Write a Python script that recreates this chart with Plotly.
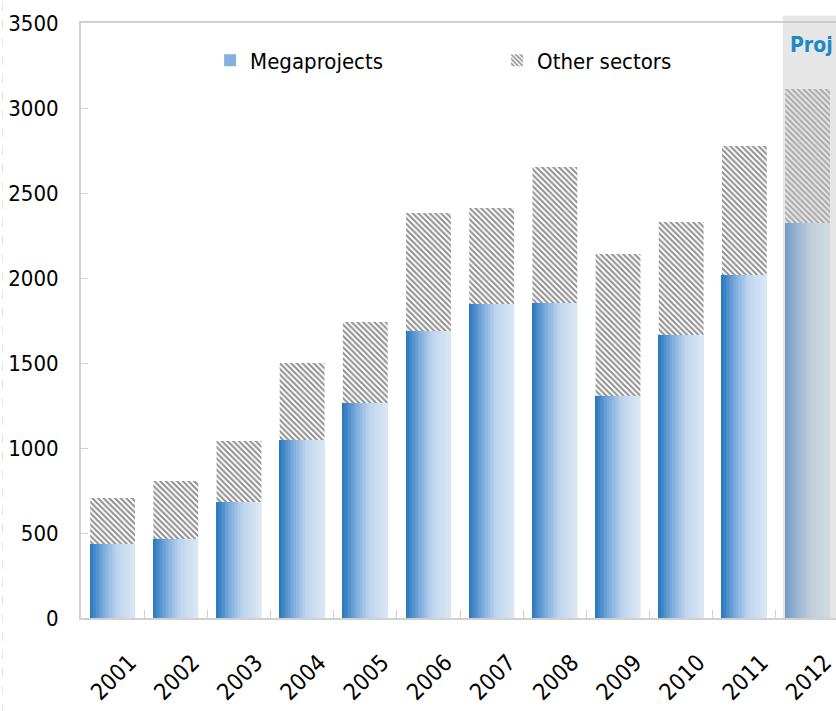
import plotly.graph_objects as go

years = ["2001", "2002", "2003", "2004", "2005", "2006", "2007", "2008", "2009", "2010", "2011", "2012"]
megaprojects = [435, 465, 682, 1047, 1265, 1688, 1847, 1853, 1306, 1665, 2018, 2324]
other_sectors = [271, 341, 359, 453, 476, 694, 565, 800, 835, 664, 758, 788]
y_ticks = [0, 500, 1000, 1500, 2000, 2500, 3000, 3500]

FONT = "DejaVu Sans Condensed, Noto Sans, sans-serif"
BAR_W = 0.71
N_STRIPS = 30
stops = [(0.0, (38, 118, 189)), (0.3, (122, 170, 220)), (0.6, (190, 212, 238)), (1.0, (219, 232, 243))]


def grad(t):
    for (t0, c0), (t1, c1) in zip(stops[:-1], stops[1:]):
        if t <= t1:
            f = (t - t0) / (t1 - t0)
            return "rgb(%d,%d,%d)" % tuple(round(a + (b - a) * f) for a, b in zip(c0, c1))
    return "rgb(%d,%d,%d)" % stops[-1][1]


fig = go.Figure()
sw = BAR_W / N_STRIPS
for i in range(N_STRIPS):
    fig.add_trace(go.Bar(
        x=years, y=megaprojects, name="Megaprojects",
        offset=-BAR_W / 2 + i * sw, width=sw * 1.15,
        marker=dict(color=grad((i + 0.5) / N_STRIPS), line=dict(width=0)),
        showlegend=(i == N_STRIPS // 3), legendgroup="mega", hoverinfo="skip" if i else None,
    ))

fig.add_trace(go.Bar(
    x=years, y=other_sectors, base=megaprojects, name="Other sectors",
    offset=-BAR_W / 2, width=BAR_W,
    marker=dict(color="white", line=dict(width=0),
                pattern=dict(shape="\\", fgcolor="#1e1e1e", bgcolor="white", size=4, solidity=0.5)),
))

# projection shading
fig.add_shape(type="rect", xref="x", yref="paper", x0=10.61, x1=12.5, y0=0, y1=1.012,
              fillcolor="#c8c8c8", opacity=0.45, line=dict(width=0), layer="above")
fig.add_annotation(text="<b>Proj</b>", xref="paper", yref="paper", x=0.936, y=0.963,
                   xanchor="left", yanchor="middle", showarrow=False,
                   font=dict(family=FONT, size=21, color="#1c8ac6"))
# faint dashed border at far left
fig.add_shape(type="line", xref="paper", yref="paper", x0=-0.104, x1=-0.104, y0=-0.16, y1=1.04,
              line=dict(color="#e3e3e3", width=1, dash="dash"))

fig.update_layout(
    width=836, height=711,
    margin=dict(l=81, r=0, t=23, b=93, autoexpand=False),
    paper_bgcolor="white", plot_bgcolor="white",
    barmode="overlay",
    font=dict(family=FONT, size=22, color="black"),
    legend=dict(orientation="h", x=0.171, y=0.937, xanchor="left", yanchor="middle",
                bgcolor="rgba(0,0,0,0)", font=dict(family=FONT, size=22),
                entrywidth=242, entrywidthmode="pixels", itemwidth=30, traceorder="normal"),
    xaxis=dict(type="category", range=[-0.5, 11.45], tickson="boundaries", ticks="inside",
               ticklen=8, tickcolor="#d0d0d0", showline=True, linecolor="#d0d0d0", linewidth=2,
               mirror=True, showgrid=False, tickangle=-45, tickfont=dict(family=FONT, size=23),
               ticklabelstandoff=20, ticklabelshift=17, automargin=False),
    yaxis=dict(range=[0, 3500], tickvals=y_ticks, ticks="inside", ticklen=7, tickcolor="#d0d0d0",
               showline=True, linecolor="#d0d0d0", linewidth=2, showgrid=False, zeroline=False,
               tickfont=dict(family=FONT, size=22), ticklabelstandoff=16, automargin=False),
)

fig.write_html("out.html", config={"displayModeBar": False},
               post_script="document.body.style.margin='0';")
